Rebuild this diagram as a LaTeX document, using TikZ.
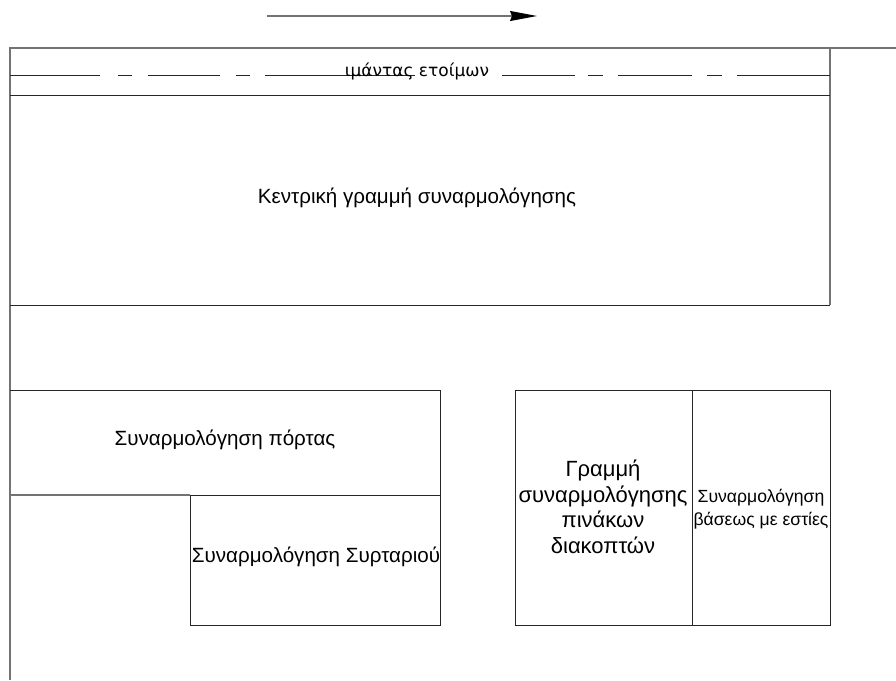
\documentclass[tikz,border=0pt]{standalone}
\usepackage{fontspec}
\setmainfont{Liberation Sans}
\newfontfamily\beltfont{DejaVu Sans}
\usetikzlibrary{arrows.meta}

\begin{document}
\begin{tikzpicture}[x=1pt,y=-1pt,
	wall/.style={line width=1pt, black!85},
	frame/.style={line width=1.1pt, black!55},
	label/.style={font=\fontsize{20.6}{26}\selectfont, align=center, inner sep=0pt}]
	\useasboundingbox (0,0) rectangle (896,680);

	% direction of flow
	\coordinate (flowstart) at (267,16);
	\coordinate (flowend) at (537,16);
	\draw[frame, -{Stealth[length=27pt,width=10pt,inset=2pt,black]}](flowstart)--(flowend);

	% outer frame
	\draw[frame](896,48)--(10,48)--(10,680);
	\draw[frame](830,48)--(830,305);

	% belt of finished goods
	\draw[wall, dash pattern=on 90pt off 18pt on 14pt off 16pt on 72pt off 16pt on 14pt off 15pt on 150pt](10,75)--(415,75);
	\draw[wall, dash pattern=on 73pt off 13pt on 15pt off 15pt on 74pt off 15pt on 15pt off 15pt on 93pt](502,75)--(830,75);
	\node[font=\beltfont\fontsize{17}{20}\selectfont, anchor=base, inner sep=0pt] (belt) at (417,76) {ιμάντας ετοίμων};
	\draw[wall](10,95)--(830,95);

	% central line
	\draw[wall](10,305)--(830,305);
	\node[label] (central) at (417,198) {Κεντρική γραμμή συναρμολόγησης};

	% door and drawer
	\draw[wall](10,390)--(440,390)--(440,625)--(190,625)--(190,495)--(440,495);
	\draw[frame](10,495)--(190,495);
	\node[label] (door) at (225,440) {Συναρμολόγηση πόρτας};
	\node[label] (drawer) at (316,557) {Συναρμολόγηση Συρταριού};

	% switch panels and hob bases
	\draw[wall](515,390) rectangle (830,625);
	\draw[wall](692,390)--(692,625);
	\node[label, font=\fontsize{22}{25.5}\selectfont] (panels) at (603,507) {Γραμμή\\συναρμολόγησης\\πινάκων\\διακοπτών};
	\node[label, font=\fontsize{17.6}{23}\selectfont] (bases) at (761,509) {Συναρμολόγηση\\βάσεως με εστίες};

\end{tikzpicture}
\end{document}
